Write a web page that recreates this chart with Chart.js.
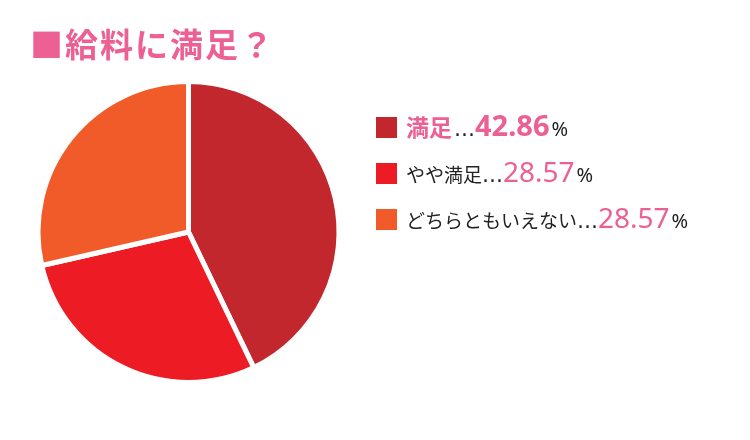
<!DOCTYPE html>
<html><head><meta charset="utf-8">
<script src="https://cdn.jsdelivr.net/npm/chart.js@4"></script>
<style>html,body{margin:0;padding:0;background:#fff;}#wrap{width:750px;height:440px;}</style>
</head><body><div id="wrap"><canvas id="c" width="750" height="440"></canvas></div>
<script>
const titleText = '■給料に満足？';
const categories = ['満足', 'やや満足', 'どちらともいえない'];
const values = [42.86, 28.57, 28.57];
const colors = ['#C1272D', '#ED1C24', '#F15A29'];
const PINK = '#EC6093';
const JP = '"Noto Sans CJK JP", sans-serif';
const NUM = '"Noto Sans", "Noto Sans CJK JP", sans-serif';
const ELL = '"DejaVu Sans", sans-serif';

const titleSpacing = {
  id: 'titleSpacing',
  beforeDraw(chart) { chart.ctx.letterSpacing = '2px'; },
  beforeDatasetsDraw(chart) { chart.ctx.letterSpacing = '0px'; }
};

const legendPlugin = {
  id: 'customLegend',
  afterDraw(chart) {
    const ctx = chart.ctx;
    const ds = chart.data.datasets[0];
    const x0 = 376, base0 = 136, step = 46;
    ctx.save();
    ctx.letterSpacing = '0px';
    ctx.textBaseline = 'alphabetic';
    ctx.textAlign = 'left';
    chart.data.labels.forEach((lab, i) => {
      const base = base0 + i * step;
      ctx.fillStyle = ds.backgroundColor[i];
      ctx.fillRect(x0, base - 19, 21, 21);
      const strong = i === 0;
      let x = 406;
      const segs = [
        {t: lab, font: (strong ? 'bold 23px ' : '19px ') + JP, c: strong ? PINK : '#222', pre: 0, post: 0},
        {t: '…', font: '21px ' + ELL, c: '#222', pre: strong ? 2 : 0, post: 0},
        {t: ds.data[i].toFixed(2), font: (strong ? 'bold 29px ' : '28px ') + NUM, c: PINK, pre: 0, post: 2},
        {t: '%', font: '20px ' + NUM, c: '#222', pre: 0, post: 0}
      ];
      segs.forEach((s) => {
        ctx.font = s.font;
        ctx.fillStyle = s.c;
        x += s.pre;
        ctx.fillText(s.t, x, base);
        x += ctx.measureText(s.t).width + s.post;
      });
    });
    ctx.restore();
  }
};

new Chart(document.getElementById('c'), {
  type: 'pie',
  data: {
    labels: categories,
    datasets: [{
      data: values,
      backgroundColor: colors,
      borderColor: '#ffffff',
      borderWidth: 5
    }]
  },
  options: {
    responsive: false,
    animation: false,
    radius: 150.5,
    layout: {padding: {left: 30, right: 403, top: 0, bottom: 50.6}},
    plugins: {
      legend: {display: false},
      tooltip: {enabled: false},
      title: {
        display: true, text: titleText, align: 'start', color: PINK,
        font: {family: JP, size: 33, weight: 'bold', lineHeight: 1.2},
        padding: {top: 25, bottom: 10}
      }
    }
  },
  plugins: [titleSpacing, legendPlugin]
});
</script>
</body></html>
